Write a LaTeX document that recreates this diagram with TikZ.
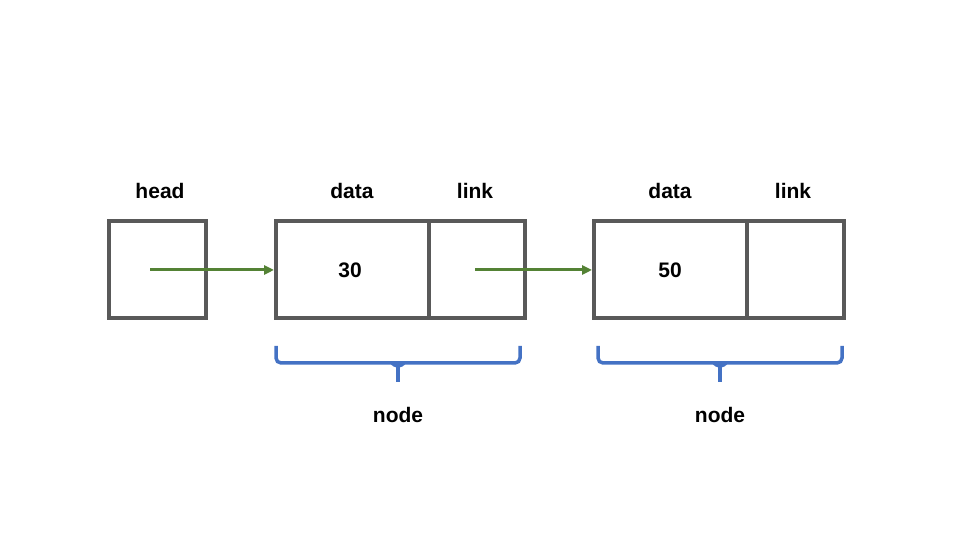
\documentclass[tikz,border=0pt]{standalone}
\usepackage{fontspec}
\setmainfont{Liberation Sans}
\usetikzlibrary{arrows.meta}
\definecolor{boxgray}{HTML}{595959}
\definecolor{arrgreen}{HTML}{548235}
\definecolor{brblue}{HTML}{4472C4}
\tikzset{
  cell/.style={draw=boxgray,line width=4pt,minimum height=97pt,inner sep=0pt},
  lbl/.style={font=\fontsize{21}{24}\selectfont\bfseries,inner sep=0pt},
  ptr/.style={draw=arrgreen,line width=3pt,-{Triangle[length=10pt,width=9pt]}},
  brc/.style={draw=brblue,line width=3.5pt,rounded corners=5pt}
}
\begin{document}
\begin{tikzpicture}[x=1pt,y=1pt]
\useasboundingbox (0,0) rectangle (960,540);
\node[cell,minimum width=97pt] (head) at (157.5,270) {};
\node[cell,minimum width=153pt] (d1) at (352.5,270) {};
\node[cell,minimum width=96pt] (l1) at (477,270) {};
\node[cell,minimum width=153pt] (d2) at (670.5,270) {};
\node[cell,minimum width=97pt] (l2) at (795.5,270) {};
\node[lbl] (t30) at (350,270) {30};
\node[lbl] (t50) at (670,270) {50};
\node[lbl] (hh) at (160,349) {head};
\node[lbl] (da1) at (352,349) {data};
\node[lbl] (li1) at (475,349) {link};
\node[lbl] (da2) at (670,349) {data};
\node[lbl] (li2) at (793,349) {link};
\node[lbl] (n1) at (398,125) {node};
\node[lbl] (n2) at (720,125) {node};
\coordinate (hs) at (150,270);
\coordinate (ls) at (475,270);
\draw[ptr] (hs) -- (d1.west);
\draw[ptr] (ls) -- (d2.west);
\draw[brc] (276,194) -- (276,177) -- (398,177) -- (520,177) -- (520,194);
\draw[brc] (392,177) -- (398,172) -- (404,177);
\draw[draw=brblue,line width=3.5pt] (398,176) -- (398,158);
\draw[brc] (598,194) -- (598,177) -- (720,177) -- (842,177) -- (842,194);
\draw[brc] (714,177) -- (720,172) -- (726,177);
\draw[draw=brblue,line width=3.5pt] (720,176) -- (720,158);
\end{tikzpicture}
\end{document}
